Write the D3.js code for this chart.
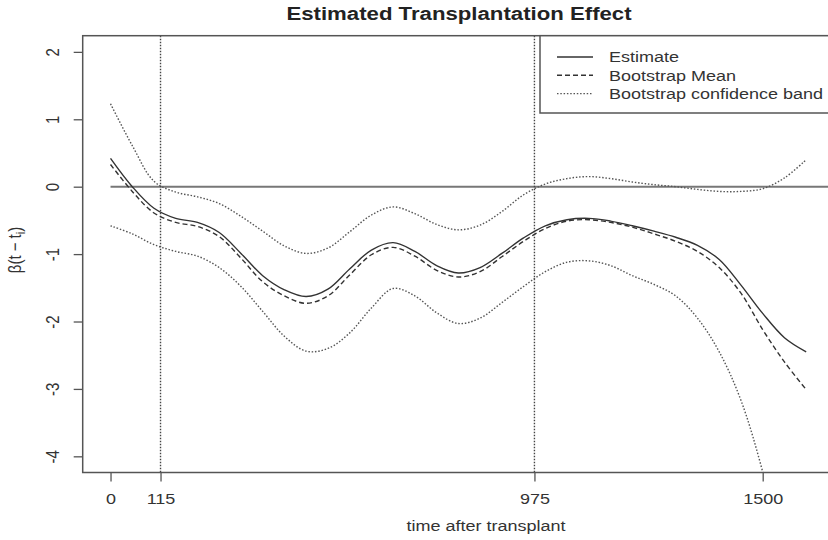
<!DOCTYPE html>
<html>
<head>
<meta charset="utf-8">
<script src="https://cdn.jsdelivr.net/npm/d3@7"></script>
<style>
  body { margin: 0; background: #fff; }
  svg { display: block; font-family: "Liberation Sans", Arial, sans-serif; }
</style>
</head>
<body>
<div id="chart"></div>
<script>
// time after transplant (days)
const time = [0, 50, 100, 150, 200, 250, 300, 350, 400, 450, 500, 550, 600, 650, 700, 750, 800,
  850, 900, 950, 1000, 1050, 1100, 1150, 1200, 1250, 1300, 1350, 1400, 1450, 1500, 1550, 1600]

const estimate = [0.42, 0.00, -0.32, -0.47, -0.53, -0.68, -0.99, -1.32, -1.53, -1.63, -1.52, -1.22,
  -0.94, -0.83, -0.96, -1.17, -1.28, -1.20, -0.99, -0.76, -0.58, -0.49, -0.47, -0.51, -0.58, -0.66,
  -0.75, -0.87, -1.08, -1.46, -1.88, -2.24, -2.45]

const bootMean = [0.33, -0.07, -0.39, -0.53, -0.59, -0.74, -1.06, -1.41, -1.62, -1.73, -1.62, -1.31,
  -1.01, -0.90, -1.03, -1.24, -1.34, -1.26, -1.04, -0.81, -0.62, -0.51, -0.49, -0.53, -0.60, -0.70,
  -0.81, -0.96, -1.20, -1.58, -2.12, -2.60, -3.01]

const bandUpper = [1.23, 0.61, 0.08, -0.08, -0.15, -0.25, -0.44, -0.66, -0.88, -0.99, -0.91, -0.67,
  -0.42, -0.30, -0.40, -0.56, -0.64, -0.57, -0.37, -0.12, 0.04, 0.12, 0.15, 0.12, 0.07, 0.03,
  0.00, -0.04, -0.07, -0.07, -0.03, 0.13, 0.40]

const bandLower = [-0.58, -0.70, -0.86, -0.96, -1.03, -1.20, -1.48, -1.85, -2.22, -2.44, -2.40, -2.17,
  -1.80, -1.51, -1.62, -1.87, -2.03, -1.95, -1.72, -1.48, -1.26, -1.12, -1.10, -1.17, -1.32, -1.45,
  -1.62, -1.95, -2.45, -3.17, -4.23, -5.60, -7.20]

const xTicks = [0, 115, 975, 1500]
const yTicks = [2, 1, 0, -1, -2, -3, -4]
const refLines = [115, 975]
const legendLabels = ["Estimate", "Bootstrap Mean", "Bootstrap confidence band"]

const W = 828, H = 540
const box = { left: 82.7, top: 35.7, right: 834, bottom: 472.5 }
const stretch = 1.2   // text in the picture is wider than tall

const svg = d3.select("#chart").append("svg")
    .attr("width", W)
    .attr("height", H)

// R style 4% padding
const x = d3.scaleLinear().domain([0 - 64, 1600 + 64]).range([box.left, box.right])
const y = d3.scaleLinear().domain([-4 - 0.24, 2 + 0.24]).range([box.bottom, box.top])

svg.append("clipPath").attr("id", "plotclip")
    .append("rect")
    .attr("x", box.left).attr("y", box.top)
    .attr("width", box.right - box.left).attr("height", box.bottom - box.top)

const plot = svg.append("g").attr("clip-path", "url(#plotclip)")

// zero line
plot.append("line")
    .attr("x1", x(0)).attr("x2", box.right)
    .attr("y1", y(0)).attr("y2", y(0))
    .attr("stroke", "#777").attr("stroke-width", 2)

// vertical dotted reference lines
plot.selectAll(".vref").data(refLines).join("line")
    .attr("class", "vref")
    .attr("x1", d => x(d)).attr("x2", d => x(d))
    .attr("y1", box.top).attr("y2", box.bottom)
    .attr("stroke", "#444").attr("stroke-width", 1.4)
    .attr("stroke-dasharray", "1.5 1.5")

const line = d3.line()
    .x((d, i) => x(time[i]))
    .y(d => y(d))
    .curve(d3.curveCatmullRom.alpha(0.5))

const series = [
    { values: bandUpper, color: "#555", width: 1.4, dash: "1.5 1.8" },
    { values: bandLower, color: "#555", width: 1.4, dash: "1.5 1.8" },
    { values: bootMean, color: "#333", width: 1.4, dash: "5 3" },
    { values: estimate, color: "#333", width: 1.4, dash: null }
]

plot.selectAll(".curve").data(series).join("path")
    .attr("class", "curve")
    .attr("d", d => line(d.values))
    .attr("fill", "none")
    .attr("stroke", d => d.color)
    .attr("stroke-width", d => d.width)
    .attr("stroke-dasharray", d => d.dash)

// box
svg.append("rect")
    .attr("x", box.left).attr("y", box.top)
    .attr("width", box.right - box.left).attr("height", box.bottom - box.top)
    .attr("fill", "none").attr("stroke", "#555").attr("stroke-width", 1.5)

// axes, R prints a plain hyphen for negatives
const fmt = d => String(d)

const xAxis = svg.append("g")
    .attr("transform", `translate(0,${box.bottom})`)
    .call(d3.axisBottom(x).tickValues(xTicks).tickSize(9).tickFormat(fmt))
xAxis.select(".domain").remove()
xAxis.selectAll(".tick line").attr("stroke", "#555").attr("stroke-width", 1.3)
xAxis.selectAll(".tick text")
    .attr("y", 0).attr("dy", 0)
    .attr("transform", `translate(0,31) scale(${stretch},1)`)
    .attr("font-size", 15).attr("fill", "#333")

const yAxis = svg.append("g")
    .attr("transform", `translate(${box.left},0)`)
    .call(d3.axisLeft(y).tickValues(yTicks).tickSize(9).tickFormat(fmt))
yAxis.select(".domain").remove()
yAxis.selectAll(".tick line").attr("stroke", "#555").attr("stroke-width", 1.3)
yAxis.selectAll(".tick text")
    .attr("x", 0).attr("dy", "0.35em")
    .attr("text-anchor", "middle")
    .attr("transform", `translate(-30.5,0) scale(${stretch},1) rotate(-90)`)
    .attr("font-size", 15).attr("fill", "#333")

// title and axis labels
svg.append("text")
    .attr("transform", `translate(459,20) scale(${stretch},1)`)
    .attr("text-anchor", "middle")
    .attr("font-size", 18.5).attr("font-weight", "bold").attr("fill", "#222")
    .text("Estimated Transplantation Effect")

svg.append("text")
    .attr("transform", `translate(486,531) scale(${stretch},1)`)
    .attr("text-anchor", "middle")
    .attr("font-size", 15).attr("fill", "#333")
    .text("time after transplant")

const ylab = svg.append("text")
    .attr("transform", `translate(21,250) scale(${stretch},1) rotate(-90)`)
    .attr("text-anchor", "middle")
    .attr("font-size", 15).attr("fill", "#333")
ylab.append("tspan").text("β(t − t")
ylab.append("tspan").attr("font-size", 11).attr("dy", 3).text("i")
ylab.append("tspan").attr("dy", -3).text(")")

// legend
const legend = svg.append("g")
legend.append("rect")
    .attr("x", 540).attr("y", box.top)
    .attr("width", box.right - 540).attr("height", 113 - box.top)
    .attr("fill", "#fff").attr("stroke", "#555").attr("stroke-width", 1.5)

const rows = legend.selectAll(".row").data(legendLabels).join("g")
    .attr("class", "row")
    .attr("transform", (d, i) => `translate(0,${57 + i * 18.3})`)

rows.append("line")
    .attr("x1", 557).attr("x2", 593)
    .attr("stroke", (d, i) => series[3 - i].color)
    .attr("stroke-width", 1.4)
    .attr("stroke-dasharray", (d, i) => series[3 - i].dash)

rows.append("text")
    .attr("transform", `translate(609,0) scale(${stretch},1)`)
    .attr("dy", "0.35em")
    .attr("font-size", 15).attr("fill", "#333")
    .text(d => d)
</script>
</body>
</html>
